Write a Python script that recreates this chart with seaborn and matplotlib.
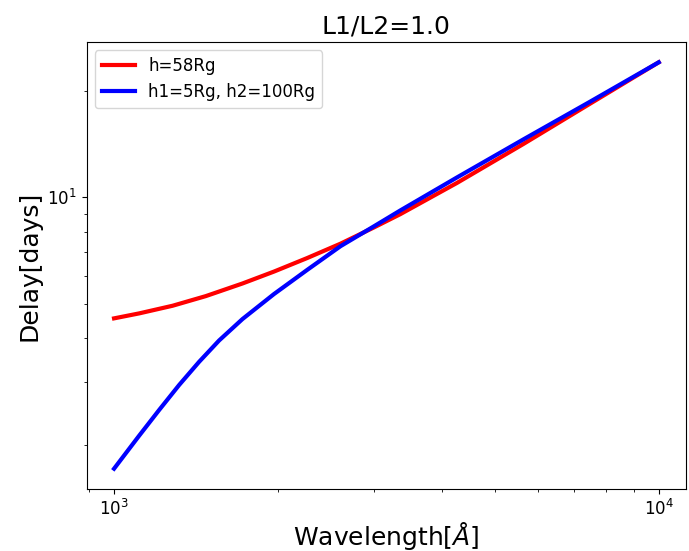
import matplotlib
matplotlib.use("Agg")
import matplotlib.pyplot as plt
import seaborn as sns
import pandas as pd

wl_single = [1000, 1112, 1281, 1474, 1721, 1966, 2263, 2605, 2998, 3355, 4262, 5643, 7472, 10000]
delay_single = [4.55, 4.70, 4.94, 5.26, 5.71, 6.17, 6.74, 7.40, 8.22, 8.97, 10.99, 14.16, 18.39, 24.1]
wl_double = [1000, 1112, 1211, 1317, 1433, 1559, 1721, 1966, 2263, 2605, 2998, 3355, 4262, 5643, 7472, 10000]
delay_double = [1.71, 2.12, 2.51, 2.95, 3.43, 3.94, 4.53, 5.33, 6.24, 7.28, 8.28, 9.19, 11.39, 14.59, 18.63, 24.1]
labels = ["h=58Rg", "h1=5Rg, h2=100Rg"]
colors = ["red", "blue"]

df = pd.concat([
    pd.DataFrame({"wl": wl_single, "delay": delay_single, "model": labels[0]}),
    pd.DataFrame({"wl": wl_double, "delay": delay_double, "model": labels[1]}),
])

fig = plt.figure(figsize=(6.89, 5.51), dpi=100)
ax = fig.add_axes([0.126, 0.1125, 0.8696, 0.8113])
sns.lineplot(data=df, x="wl", y="delay", hue="model", palette=dict(zip(labels, colors)),
             linewidth=3, ax=ax, sort=False)
ax.set_xscale("log")
ax.set_yscale("log")
ax.set_title("L1/L2=1.0", fontsize=18)
ax.set_xlabel(r"Wavelength[$\AA$]", fontsize=18, labelpad=1)
ax.set_ylabel("Delay[days]", fontsize=18)
ax.tick_params(labelsize=12)
leg = ax.legend(loc="upper left", fontsize=12, title=None)
fig.savefig("out.png", dpi=100)
